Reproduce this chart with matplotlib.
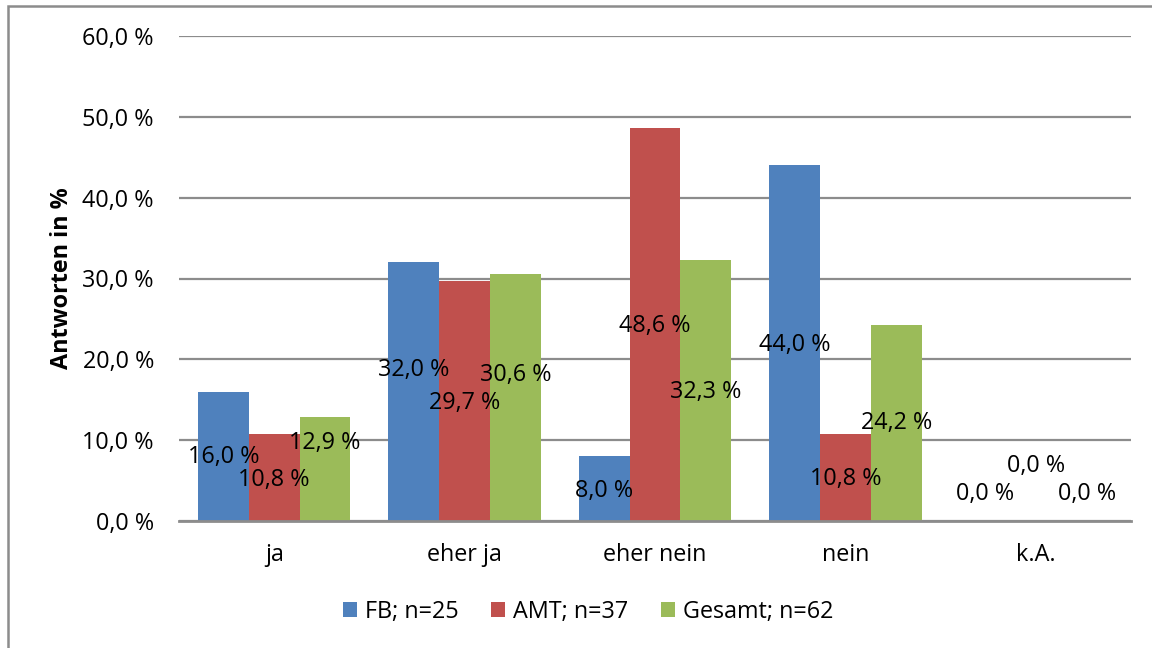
import matplotlib
matplotlib.use("Agg")
import matplotlib.pyplot as plt
from matplotlib.patches import Patch, Rectangle
import numpy as np

plt.rcParams['font.family'] = ['Open Sans', 'DejaVu Sans']

categories = ["ja", "eher ja", "eher nein", "nein", "k.A."]
series_names = ["FB; n=25", "AMT; n=37", "Gesamt; n=62"]
fb = [16.0, 32.0, 8.0, 44.0, 0.0]
amt = [10.8, 29.7, 48.6, 10.8, 0.0]
gesamt = [12.9, 30.6, 32.3, 24.2, 0.0]
colors = ["#4F81BD", "#C0504D", "#9BBB59"]

# vertical placement of the value labels (in axis units)
label_y = [
    [7.9, 18.7, 3.7, 21.8, 3.3],
    [5.1, 14.6, 24.1, 5.2, 6.8],
    [9.6, 18.1, 15.9, 12.1, 3.3],
]

FS = 16.8

fig = plt.figure(figsize=(11.52, 6.48), dpi=100)
ax = fig.add_axes([179/1152, 1 - 521/648, (1131-179)/1152, (521-36)/648])

x = np.arange(len(categories))
width = 0.8 / 3
values = [fb, amt, gesamt]
for i, (vals, col) in enumerate(zip(values, colors)):
    pos = x + (i - 1) * width
    ax.bar(pos, vals, width=width, color=col, zorder=3, linewidth=0)
    for px, v, ly in zip(pos, vals, label_y[i]):
        ax.text(px, ly, f"{v:.1f} %".replace(".", ","), ha="center", va="center",
                fontsize=FS, color="black", zorder=4)

ax.set_xlim(-0.5, len(categories) - 0.5)
ax.set_ylim(0, 60)
ax.set_yticks(np.arange(0, 61, 10))
ax.set_yticklabels([f"{t:.1f} %".replace(".", ",") for t in np.arange(0, 61, 10)])
ax.set_xticks(x)
ax.set_xticklabels(categories)
ax.tick_params(axis="y", length=0, pad=18, labelsize=FS)
ax.tick_params(axis="x", length=0, pad=16, labelsize=FS)
ax.grid(axis="y", color="#8c8c8c", linewidth=1.6, zorder=0)
for s in ["left", "right", "top"]:
    ax.spines[s].set_visible(False)
ax.spines["bottom"].set_color("#8c8c8c")
ax.spines["bottom"].set_linewidth(2)
ax.spines["bottom"].set_zorder(5)

ax.set_ylabel("Antworten in %", fontsize=FS, fontweight="bold")
ax.yaxis.set_label_coords((74 - 179) / 952, 0.5)

handles = [Patch(facecolor=c, edgecolor="none") for c in colors]
fig.legend(handles, series_names, loc="center", bbox_to_anchor=(588/1152, 1 - 612/648),
           ncol=3, frameon=False, fontsize=FS, handlelength=0.6, handleheight=0.6,
           handletextpad=0.35, columnspacing=1.4)

# outer frame of the chart area
fig.patches.append(Rectangle((8/1152, -0.05), 1.2, 1.05 - 6/648, transform=fig.transFigure,
                             fill=False, edgecolor="#8c8c8c", linewidth=1.8))

fig.savefig("out.png", dpi=100)
